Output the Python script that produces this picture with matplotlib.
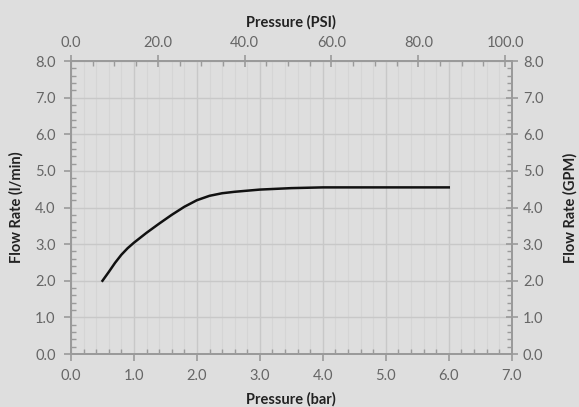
import numpy as np
import matplotlib.pyplot as plt
from matplotlib.ticker import MultipleLocator, FormatStrFormatter

plt.rcParams['font.family'] = ['Lato', 'DejaVu Sans']

# curve
pressure_bar = [0.5, 0.6, 0.7, 0.8, 0.9, 1.0, 1.2, 1.4, 1.6, 1.8, 2.0,
                2.2, 2.4, 2.6, 2.8, 3.0, 3.5, 4.0, 5.0, 6.0]
flow_lpm = [2.0, 2.24, 2.49, 2.71, 2.89, 3.04, 3.31, 3.56, 3.8, 4.02, 4.2,
            4.32, 4.39, 4.43, 4.46, 4.49, 4.53, 4.55, 4.55, 4.55]

BAR_TO_PSI = 14.5038
bg = '#dedede'
spine_c = '#9a9a9a'
tick_c = '#666666'
label_c = '#222222'

fig = plt.figure(figsize=(5.79, 4.07), dpi=100, facecolor=bg)
ax = fig.add_axes([0.1226, 0.1302, 0.7612, 0.7198])
ax.set_facecolor(bg)

ax.set_xlim(0, 7)
ax.set_ylim(0, 8)
ax.xaxis.set_major_locator(MultipleLocator(1))
ax.xaxis.set_minor_locator(MultipleLocator(0.2))
ax.yaxis.set_major_locator(MultipleLocator(1))
ax.yaxis.set_minor_locator(MultipleLocator(0.2))
ax.xaxis.set_major_formatter(FormatStrFormatter('%.1f'))
ax.yaxis.set_major_formatter(FormatStrFormatter('%.1f'))

ax.grid(which='major', color='#c8c8c8', linewidth=1.0)
ax.grid(which='minor', axis='x', color='#d5d5d5', linewidth=0.8)
ax.set_axisbelow(True)

ax.plot(pressure_bar, flow_lpm, color='#111111', linewidth=1.8, zorder=3)

# top axis in PSI
axt = ax.twiny()
axt.set_xlim(0, 7 * BAR_TO_PSI)
axt.xaxis.set_major_locator(MultipleLocator(20))
axt.xaxis.set_minor_locator(MultipleLocator(5))
axt.xaxis.set_major_formatter(FormatStrFormatter('%.1f'))

# right axis in GPM
axr = ax.twinx()
axr.set_ylim(0, 8)
axr.yaxis.set_major_locator(MultipleLocator(1))
axr.yaxis.set_minor_locator(MultipleLocator(0.2))
axr.yaxis.set_major_formatter(FormatStrFormatter('%.1f'))

for a in (ax, axt, axr):
    for s in a.spines.values():
        s.set_color(spine_c)
        s.set_linewidth(1.2)

ax.tick_params(which='major', direction='out', length=5, width=1.2, color=spine_c,
               labelcolor=tick_c, labelsize=10.5, pad=6)
ax.tick_params(which='minor', direction='in', length=3.5, width=1, color=spine_c)
axt.tick_params(which='major', direction='inout', length=8, width=1.2, color=spine_c,
                labelcolor=tick_c, labelsize=10.5, pad=4)
axt.tick_params(which='minor', direction='in', length=3.5, width=1, color=spine_c)
axr.tick_params(which='major', direction='inout', length=8, width=1.2, color=spine_c,
                labelcolor=tick_c, labelsize=10.5, pad=4)
axr.tick_params(which='minor', direction='in', length=3.5, width=1, color=spine_c)

ax.set_xlabel('Pressure (bar)', fontsize=10.5, fontweight='bold', color=label_c, labelpad=6)
ax.set_ylabel('Flow Rate (l/min)', fontsize=10.5, fontweight='bold', color=label_c, labelpad=8)
axt.set_xlabel('Pressure (PSI)', fontsize=10.5, fontweight='bold', color=label_c, labelpad=7)
axr.set_ylabel('Flow Rate (GPM)', fontsize=10.5, fontweight='bold', color=label_c, labelpad=14)

fig.savefig('out.png', dpi=100, facecolor=bg)
